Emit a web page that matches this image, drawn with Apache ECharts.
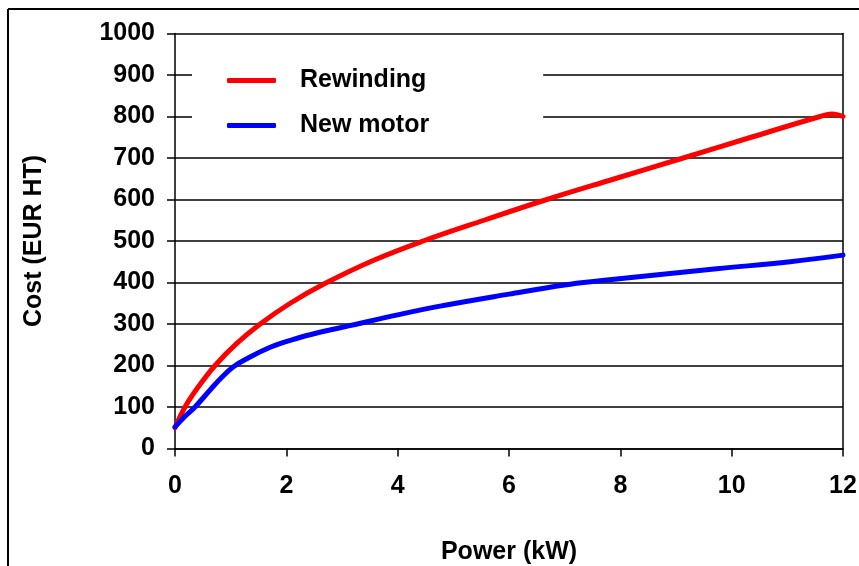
<!DOCTYPE html>
<html>
<head>
<meta charset="utf-8">
<script src="https://cdn.jsdelivr.net/npm/echarts@6/dist/echarts.min.js"></script>
<style>
html,body{margin:0;padding:0;background:#fff;}
#chart{width:859px;height:566px;}
</style>
</head>
<body>
<div id="chart"></div>
<script>
const seriesNames = ['Rewinding', 'New motor'];
const rewindPower = [0, 0.18, 0.4, 0.72, 1.1, 1.53, 2.07, 2.7, 3.56, 4.46, 5.55, 6.68, 7.9, 9.13, 10.35, 11.59, 11.8, 12.0];
const rewindCost  = [50, 100, 145, 200, 252, 300, 350, 398, 453, 500, 550, 600, 650, 700, 750, 800, 806, 800];
const motorPower = [0, 0.2, 0.36, 0.63, 0.85, 1.05, 1.3, 1.71, 2.1, 2.6, 3.14, 4.0, 4.76, 6.0, 7.0, 7.63, 8.5, 9.73, 11.05, 12.0];
const motorCost  = [52, 80, 100, 141, 173, 197, 217, 244, 262, 280, 296, 322, 343, 372, 394, 404, 416, 433, 450, 466];
const xTicks = { min: 0, max: 12, interval: 2 };
const yTicks = { min: 0, max: 1000, interval: 100 };

const pairs = (xs, ys) => xs.map((x, i) => [x, ys[i]]);
const font = 'Liberation Sans, Arial, sans-serif';

const chart = echarts.init(document.getElementById('chart'));
chart.setOption({
  animation: false,
  backgroundColor: '#fff',
  grid: { left: 175, right: 16, top: 33.5, bottom: 117.5, containLabel: false, outerBoundsMode: 'none' },
  graphic: [
    { type: 'line', shape: { x1: 8, y1: 9, x2: 859, y2: 9 }, style: { stroke: '#000', lineWidth: 2 } },
    { type: 'line', shape: { x1: 8, y1: 9, x2: 8, y2: 566 }, style: { stroke: '#000', lineWidth: 2 } }
  ],
  legend: {
    orient: 'vertical',
    left: 192, top: 45,
    padding: [23, 114, 12, 35],
    backgroundColor: '#fff',
    icon: 'roundRect',
    itemWidth: 49, itemHeight: 5, itemGap: 20,
    data: seriesNames,
    textStyle: { fontFamily: font, fontWeight: 'bold', fontSize: 25, color: '#000', padding: [0, 0, 0, 19] }
  },
  xAxis: {
    type: 'value', min: xTicks.min, max: xTicks.max, interval: xTicks.interval,
    name: 'Power (kW)', nameLocation: 'middle', nameGap: 91,
    nameTextStyle: { fontFamily: font, fontWeight: 'bold', fontSize: 25, color: '#000' },
    axisLine: { show: true, lineStyle: { color: '#000', width: 1.5 } },
    axisTick: { show: true, inside: false, length: 8, lineStyle: { color: '#000', width: 1.5 } },
    axisLabel: { fontFamily: font, fontWeight: 'bold', fontSize: 25, color: '#000', margin: 25 },
    splitLine: { show: false }
  },
  yAxis: [{
    type: 'value', min: yTicks.min, max: yTicks.max, interval: yTicks.interval,
    name: 'Cost (EUR HT)', nameLocation: 'middle', nameGap: 128,
    nameTextStyle: { fontFamily: font, fontWeight: 'bold', fontSize: 25, color: '#000' },
    axisLine: { show: true, lineStyle: { color: '#000', width: 1.5 } },
    axisTick: { show: true, inside: false, length: 8, lineStyle: { color: '#000', width: 1.5 } },
    axisLabel: { fontFamily: font, fontWeight: 'bold', fontSize: 25, color: '#000', margin: 20, padding: [0, 0, 6, 0],
      formatter: v => String(v) },
    splitLine: { show: true, lineStyle: { color: '#000', width: 1.5 } }
  }, {
    type: 'value', min: yTicks.min, max: yTicks.max, interval: yTicks.interval, position: 'right',
    axisLine: { show: true, lineStyle: { color: '#000', width: 1.5 } },
    axisTick: { show: false }, axisLabel: { show: false }, splitLine: { show: false }
  }],
  series: [{
    name: seriesNames[0], type: 'line', smooth: 0.4, symbol: 'none',
    data: pairs(rewindPower, rewindCost),
    lineStyle: { color: '#ff0000', width: 5, cap: 'round', join: 'round' },
    itemStyle: { color: '#ff0000' }, z: 3
  }, {
    name: seriesNames[1], type: 'line', smooth: 0.4, symbol: 'none',
    data: pairs(motorPower, motorCost),
    lineStyle: { color: '#0000ff', width: 5, cap: 'round', join: 'round' },
    itemStyle: { color: '#0000ff' }, z: 4
  }]
});
</script>
</body>
</html>
